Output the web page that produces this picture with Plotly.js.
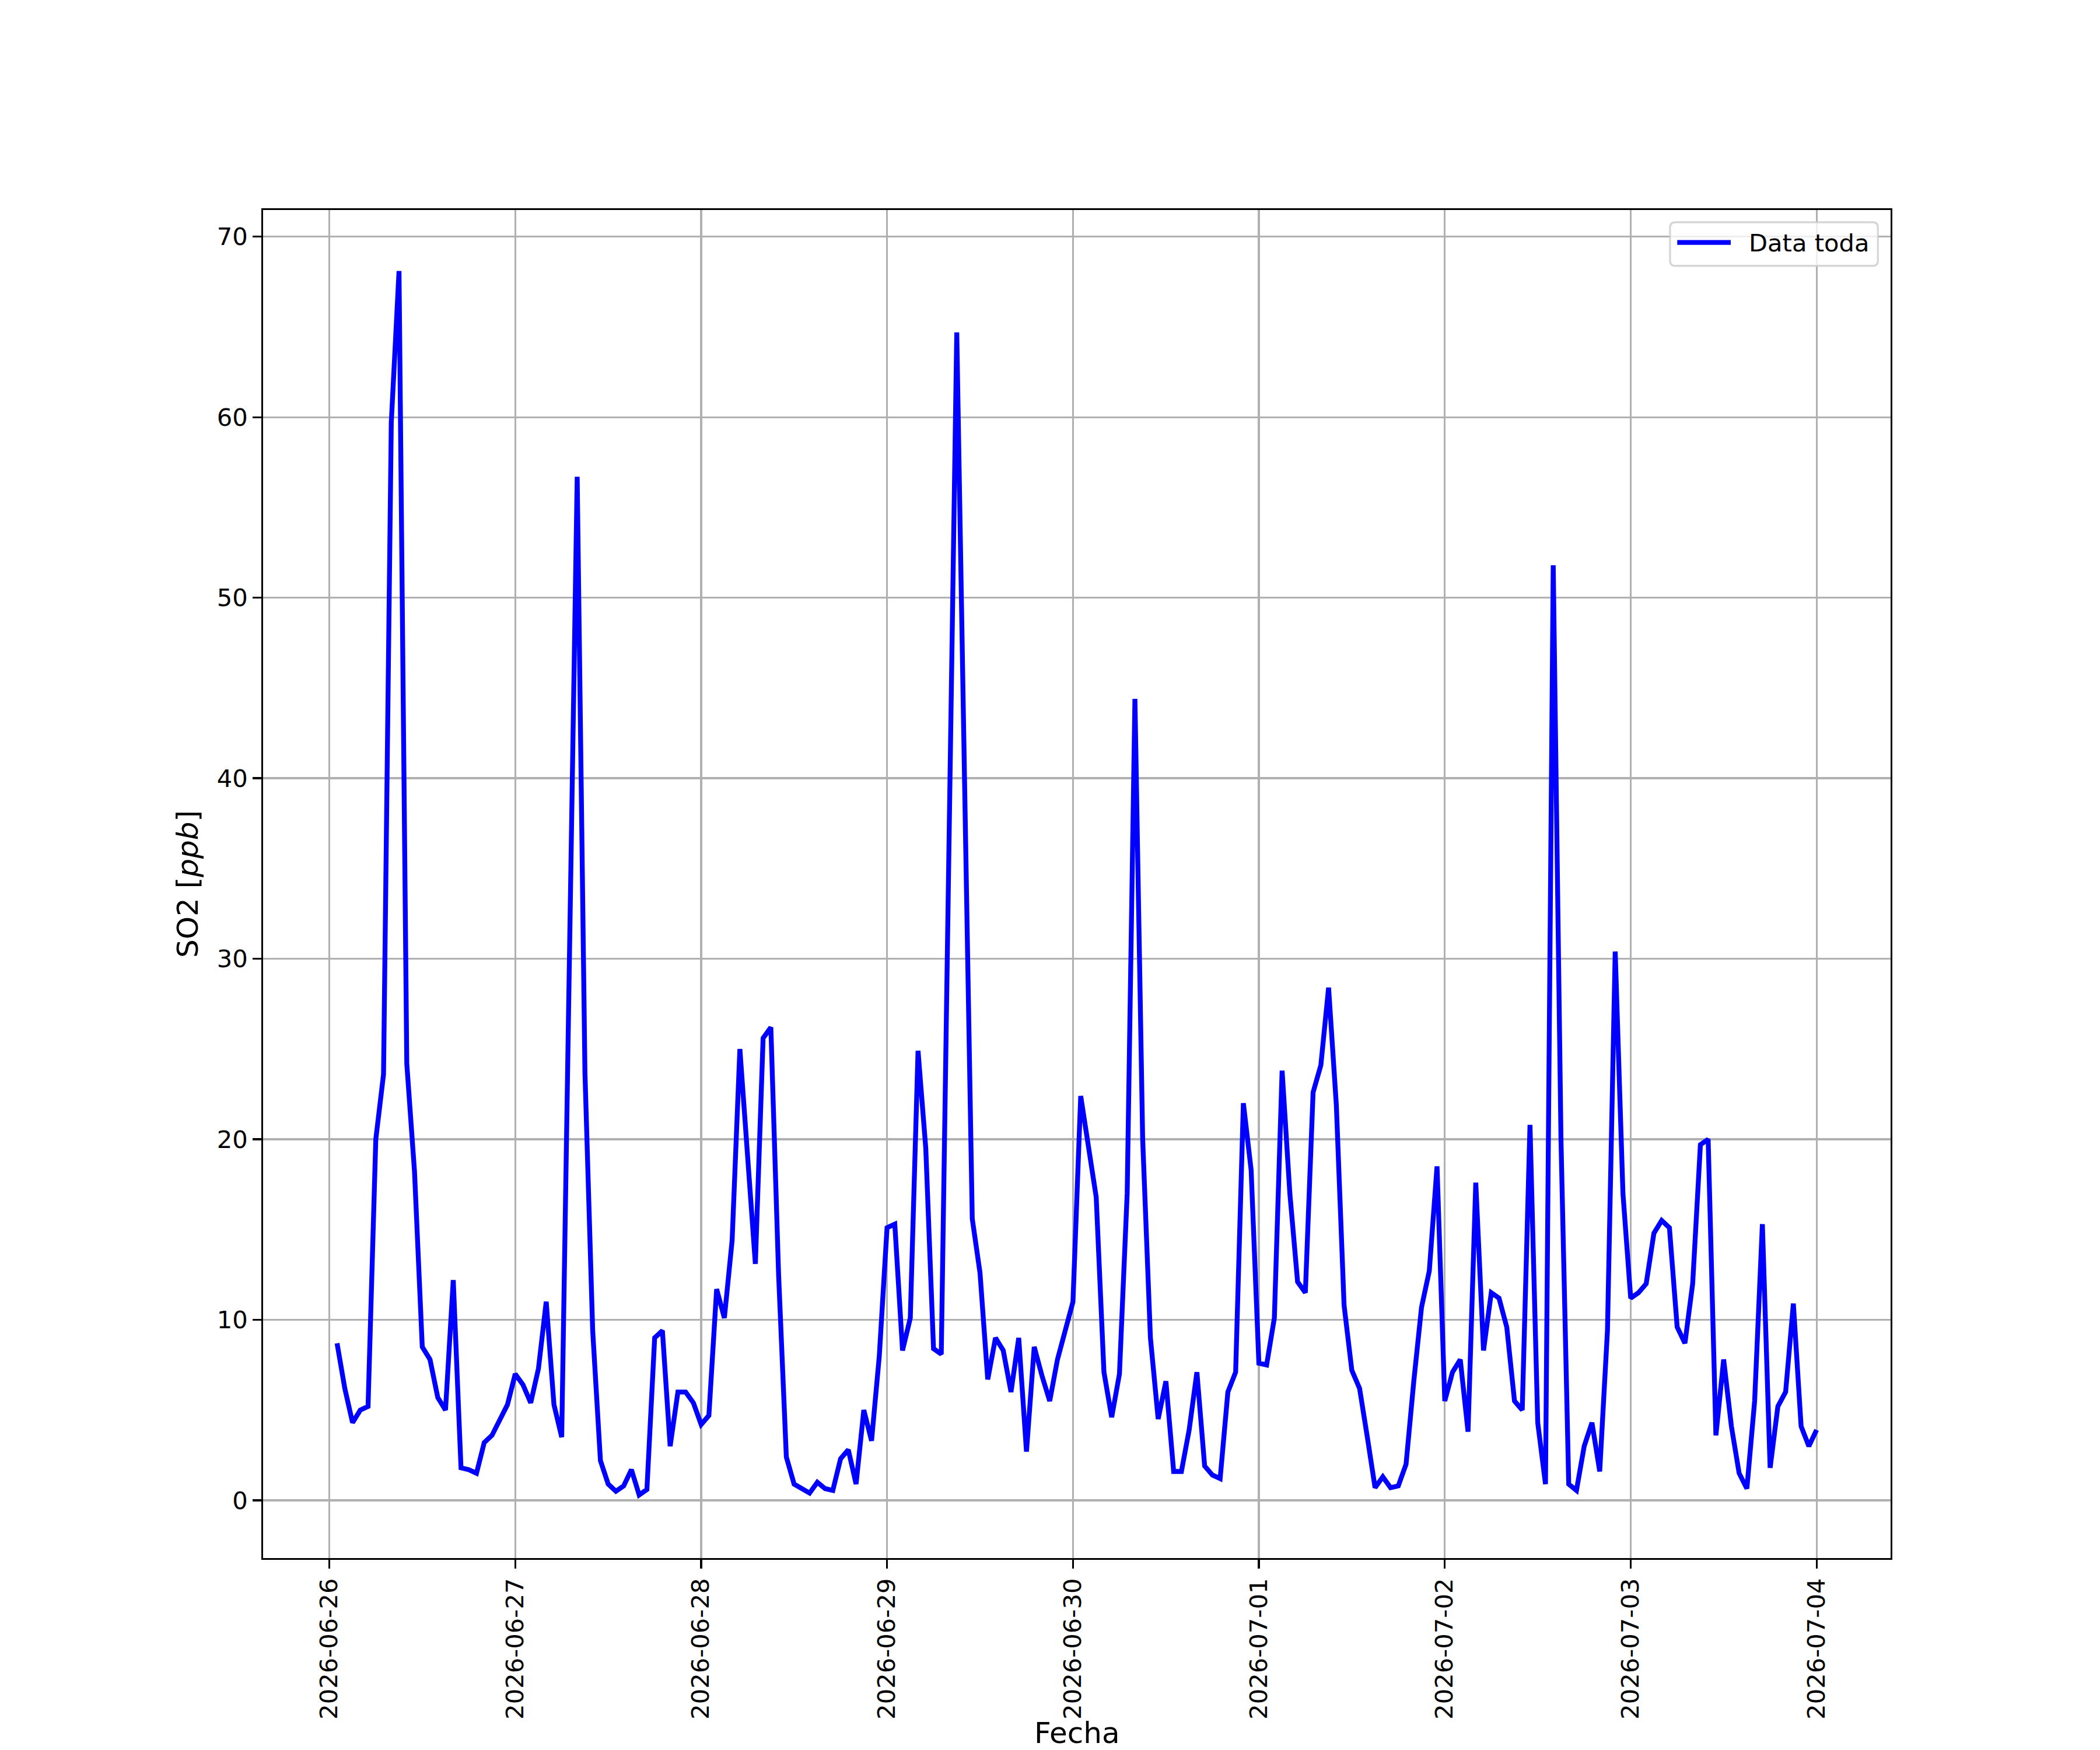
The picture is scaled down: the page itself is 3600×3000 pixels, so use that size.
<!DOCTYPE html>
<html>
<head>
<meta charset="utf-8">
<script src="https://cdn.plot.ly/plotly-3.0.1.min.js"></script>
<style>
  html, body { margin: 0; padding: 0; background: #ffffff; }
  #chart { width: 3600px; height: 3000px; }
</style>
</head>
<body>
<div id="chart"></div>
<script>
// ---------------- DATA ----------------
// Hourly SO2 readings [ppb], first reading 2026-06-26 01:00, last 2026-07-04 00:00
var startTime = "2026-06-26T01:00:00Z";
var seriesName = "Data toda";
var so2 = [
  // 2026-06-26 01:00 .. 23:00
  8.7, 6.2, 4.3, 5.0, 5.2, 20.0, 23.6, 59.7, 68.1, 24.2, 18.2, 8.5, 7.8, 5.7, 5.0, 12.2, 1.8, 1.7, 1.5, 3.2, 3.6, 4.5, 5.3,
  // 2026-06-27 00:00 .. 23:00
  7.0, 6.4, 5.4, 7.3, 11.0, 5.3, 3.5, null, 56.7, 23.7, 9.4, 2.2, 0.9, 0.5, 0.8, 1.7, 0.3, 0.6, 9.0, 9.4, 3.0, 6.0, 6.0, 5.4,
  // 2026-06-28
  4.2, 4.7, 11.7, 10.1, 14.4, 25.0, 19.1, 13.1, 25.6, 26.2, 12.5, 2.4, 0.9, 0.65, 0.4, 1.0, 0.65, 0.55, 2.3, 2.8, 0.9, 5.0, 3.3, 8.0,
  // 2026-06-29
  15.1, 15.3, 8.3, 10.1, 24.9, 19.5, 8.4, 8.1, 35.0, 64.7, 40.0, 15.6, 12.6, 6.7, 9.0, 8.3, 6.0, 9.0, 2.7, 8.5, 6.9, 5.5, 7.8, 9.4,
  // 2026-06-30
  11.0, 22.4, 19.8, 16.8, 7.1, 4.6, 7.0, 17.0, 44.4, 20.0, 9.0, 4.5, 6.6, 1.6, 1.6, 3.9, 7.1, 1.9, 1.4, 1.2, 6.0, 7.1, 22.0, 18.3,
  // 2026-07-01
  7.6, 7.5, 10.1, 23.8, 17.0, 12.1, 11.5, 22.6, 24.1, 28.4, 21.9, 10.8, 7.2, 6.2, 3.5, 0.7, 1.3, 0.7, 0.8, 2.0, 6.6, 10.7, 12.7, 18.5,
  // 2026-07-02
  5.5, 7.1, 7.8, 3.8, 17.6, 8.3, 11.5, 11.2, 9.6, 5.5, 5.0, 20.8, 4.3, 0.9, 51.8, 20.0, 0.9, 0.55, 3.0, 4.3, 1.6, 9.4, 30.4, 17.0,
  // 2026-07-03
  11.2, 11.5, 12.0, 14.8, 15.5, 15.1, 9.6, 8.7, 12.0, 19.7, 20.0, 3.6, 7.8, 4.1, 1.5, 0.65, 5.5, 15.3, 1.8, 5.2, 6.0, 10.9, 4.1, 3.0,
  // 2026-07-04 00:00
  3.9
];
var xTickLabelFormat = "%Y-%m-%d";
var xTitle = "Fecha";
var yTitle = "SO2 [<i>ppb</i>]";

// hourly time stamps for the readings
function pad(n) { return (n < 10 ? "0" : "") + n; }
var t0 = Date.parse(startTime);
var times = so2.map(function (_, i) {
  var d = new Date(t0 + i * 3600000);
  return d.getUTCFullYear() + "-" + pad(d.getUTCMonth() + 1) + "-" + pad(d.getUTCDate()) +
         " " + pad(d.getUTCHours()) + ":00:00";
});

// ---------------- STYLE ----------------
var FONT = "DejaVu Sans, Liberation Sans, sans-serif";
var L = 451, R = 3240.7, T = 360, B = 2670.7, W = 3600, H = 3000;
var lw = 3.33;

var trace = {
  x: times, y: so2, type: "scatter", mode: "lines", name: seriesName,
  connectgaps: true,
  line: { color: "#0000ff", width: 8.33 },
  showlegend: false, hoverinfo: "skip"
};

// legend (matplotlib-style box) in paper coordinates
function px2x(p) { return (p - L) / (R - L); }
function py2y(p) { return (B - p) / (B - T); }
var bx0 = px2x(2862.7), bx1 = px2x(3219), by0 = py2y(455.7), by1 = py2y(381);
var rx = 9 / (R - L), ry = 9 / (B - T);
var boxPath = "M" + (bx0 + rx) + "," + by1 +
  " L" + (bx1 - rx) + "," + by1 + " Q" + bx1 + "," + by1 + " " + bx1 + "," + (by1 - ry) +
  " L" + bx1 + "," + (by0 + ry) + " Q" + bx1 + "," + by0 + " " + (bx1 - rx) + "," + by0 +
  " L" + (bx0 + rx) + "," + by0 + " Q" + bx0 + "," + by0 + " " + bx0 + "," + (by0 + ry) +
  " L" + bx0 + "," + (by1 - ry) + " Q" + bx0 + "," + by1 + " " + (bx0 + rx) + "," + by1 + " Z";
var legY = py2y(415.7);

var layout = {
  width: W, height: H,
  margin: { l: L, r: W - R, t: T, b: H - B, pad: 0 },
  paper_bgcolor: "#ffffff", plot_bgcolor: "#ffffff",
  font: { family: FONT, color: "#000000", size: 41.67 },
  showlegend: false,
  xaxis: {
    type: "date",
    range: ["2026-06-25 15:27:00", "2026-07-04 09:33:00"],
    tick0: "2026-06-26", dtick: 86400000, tickformat: xTickLabelFormat,
    tickangle: -90,
    ticks: "outside", ticklen: 14.6, tickwidth: lw, tickcolor: "#000000",
    showline: true, linecolor: "#000000", linewidth: lw, mirror: true,
    showgrid: true, gridcolor: "#b0b0b0", gridwidth: lw, zeroline: false,
    tickfont: { family: FONT, size: 41.67, color: "#000000" },
    automargin: false, fixedrange: true
  },
  yaxis: {
    range: [-3.2, 71.48],
    tick0: 0, dtick: 10,
    ticks: "outside", ticklen: 14.6, tickwidth: lw, tickcolor: "#000000",
    showline: true, linecolor: "#000000", linewidth: lw, mirror: true,
    showgrid: true, gridcolor: "#b0b0b0", gridwidth: lw, zeroline: false,
    tickfont: { family: FONT, size: 41.67, color: "#000000" },
    title: { text: yTitle, font: { family: FONT, size: 50, color: "#000000" } },
    automargin: false, fixedrange: true
  },
  shapes: [
    { type: "path", xref: "paper", yref: "paper", path: boxPath, layer: "above",
      fillcolor: "rgba(255,255,255,0.8)", line: { color: "rgba(204,204,204,0.8)", width: lw } },
    { type: "line", xref: "paper", yref: "paper", layer: "above",
      x0: px2x(2875), x1: px2x(2966.7), y0: legY, y1: legY,
      line: { color: "#0000ff", width: 8.33 } }
  ],
  annotations: [
    { xref: "paper", yref: "paper", x: px2x(2996), y: py2y(416), xanchor: "left", yanchor: "middle",
      text: seriesName, showarrow: false,
      font: { family: FONT, size: 41.67, color: "#000000" } },
    // x-axis title (placed like matplotlib's xlabel, just under the rotated tick labels)
    { xref: "paper", yref: "paper", x: 0.5, y: py2y(2940), xanchor: "center", yanchor: "top",
      text: xTitle, showarrow: false,
      font: { family: FONT, size: 50, color: "#000000" } }
  ]
};

Plotly.newPlot("chart", [trace], layout, { staticPlot: true, displayModeBar: false });
</script>
</body>
</html>
